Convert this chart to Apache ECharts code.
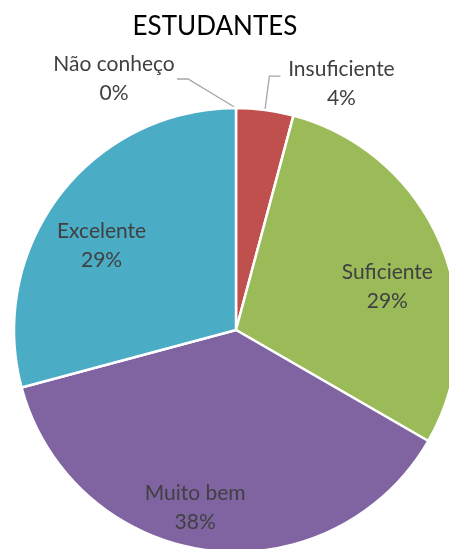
<!DOCTYPE html>
<html>
<head>
<meta charset="utf-8">
<script src="https://cdn.jsdelivr.net/npm/echarts@6/dist/echarts.min.js"></script>
<style>
  html, body { margin: 0; padding: 0; background: #fff; }
  #chart { width: 449px; height: 549px; }
</style>
</head>
<body>
<div id="chart"></div>
<script>
const categories = ["Não conheço", "Insuficiente", "Suficiente", "Muito bem", "Excelente"];
const counts = [0, 1, 7, 9, 7];
const colors = ["#A5A5A5", "#C0504D", "#9BBB59", "#8064A2", "#4BACC6"];

const font = "Lato, 'Open Sans', sans-serif";

function rich(width) {
  return { a: { width: width, align: "center", fontSize: 21, lineHeight: 29, color: "#404040", fontFamily: font } };
}

// label tweaks per slice (excel puts inner labels further out than echarts does)
const labelOpts = [
  { position: "outside", rich: rich(126) },
  { position: "outside", padding: [16, 0, 0, 0], rich: rich(112) },
  { position: "inside", offset: [46, 0], rich: rich(120) },
  { position: "inside", offset: [-26, 65], rich: rich(120) },
  { position: "inside", offset: [-44, -15], rich: rich(120) }
];

const data = categories.map((name, i) => ({
  name: name,
  value: counts[i],
  itemStyle: { color: colors[i] },
  label: labelOpts[i]
}));

var myChart = echarts.init(document.getElementById("chart"));

myChart.setOption({
  animation: false,
  title: {
    text: "ESTUDANTES",
    left: 210,
    top: 9,
    textAlign: "center",
    textStyle: { fontFamily: font, fontSize: 26, fontWeight: "normal", color: "#000" }
  },
  series: [
    {
      type: "pie",
      center: [236, 330],
      radius: 222,
      startAngle: 90,
      clockwise: true,
      avoidLabelOverlap: false,
      percentPrecision: 0,
      itemStyle: { borderColor: "#fff", borderWidth: 2.5 },
      label: {
        formatter: "{a|{b}}\n{a|{d}%}",
        fontFamily: font,
        fontSize: 21,
        color: "#404040"
      },
      labelLine: {
        length: 34,
        length2: 11,
        lineStyle: { color: "#A6A6A6", width: 1.3 }
      },
      labelLayout: function (params) {
        // "Não conheço" sits up-left of the top, like excel does
        if (params.dataIndex === 0) {
          return { x: 177, y: 79, align: "right", verticalAlign: "middle" };
        }
      },
      data: data
    }
  ]
});
</script>
</body>
</html>
